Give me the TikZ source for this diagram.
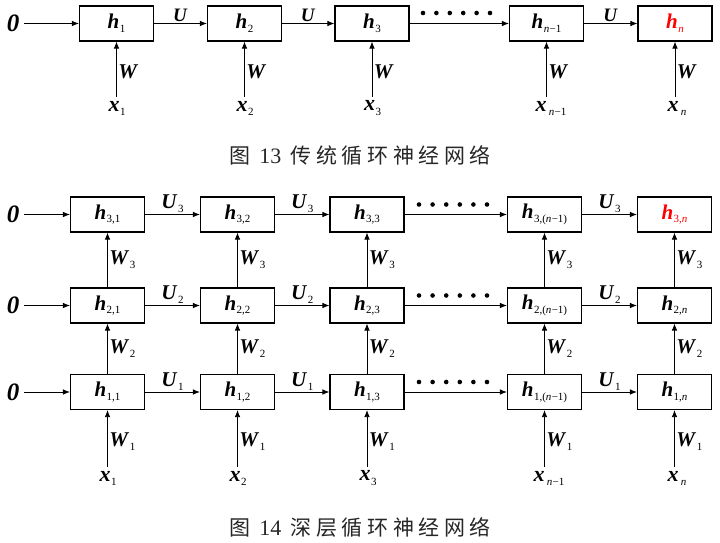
\documentclass[tikz,border=0pt]{standalone}
\usepackage{fontspec}
\setmainfont{Liberation Serif}
\newfontfamily\cjk[LetterSpace=22]{Noto Sans CJK SC}
\usetikzlibrary{arrows.meta}
\newcommand\bi[1]{\textbf{\textit{#1}}}
\newcommand\subx[1]{\raisebox{-0.4ex}{\fontsize{11}{11}\selectfont #1}}
\newcommand\lab[2]{\bi{#1}\kern0.5pt\subx{#2}}
\newcommand\nmo{\textit{n}\kern0.3pt−1}
\tikzset{
  cell/.style={draw, line width=1.1pt, minimum width=74pt, minimum height=35pt, inner sep=0pt, font=\fontsize{21}{21}\selectfont},
  conn/.style={-{Latex[length=7pt,width=5.5pt]}, line width=0.8pt},
  lbl/.style={font=\fontsize{21}{21}\selectfont, inner sep=1.5pt},
  ulbl/.style={font=\fontsize{19}{19}\selectfont, inner sep=1.5pt},
  zero/.style={font=\fontsize{25}{25}\selectfont, inner sep=5pt},
  xin/.style={font=\fontsize{22}{22}\selectfont, inner sep=4pt},
  dot/.style={circle, fill=black, inner sep=0pt, minimum size=4.6pt},
  captext/.style={font=\cjk\fontsize{21}{21}\selectfont, text=black!85}
}
\begin{document}
\begin{tikzpicture}[x=1pt,y=-1pt]
\useasboundingbox (0,0) rectangle (720,543);
% ---------- top: traditional RNN ----------
\node[cell] (a1) at (116.5,23.5) {\lab{h}{1}};
\node[cell] (a2) at (244.5,23.5) {\lab{h}{2}};
\node[cell] (a3) at (372,23.5) {\lab{h}{3}};
\node[cell] (am) at (546.5,23.5) {\lab{h}{\nmo}};
\node[cell,text=red] (an) at (675,23.5) {\lab{h}{\textit{n}}};
\node[zero] (z0) at (13,23.5) {\bi{0}};
\draw[conn] (z0) -- (a1);
\draw[conn] (a1) -- node[above,ulbl]{\bi{U}} (a2);
\draw[conn] (a2) -- node[above,ulbl]{\bi{U}} (a3);
\draw[conn] (a3) -- (am);
\draw[conn] (am) -- node[above,ulbl]{\bi{U}} (an);
\foreach \i in {0,...,5} \node[dot] (td\i) at (423+13.4*\i,13) {};
\node[xin] (x1) at (117,108) {\lab{x}{1}};
\node[xin] (x2) at (245,108) {\lab{x}{2}};
\node[xin] (x3) at (372.5,108) {\lab{x}{3}};
\node[xin] (xm) at (551,108) {\lab{x}{\,\nmo}};
\node[xin] (xn) at (677,108) {\lab{x}{\,\textit{n}}};
\foreach \x/\h in {x1/a1,x2/a2,x3/a3,xm/am,xn/an}
  \draw[conn] (\x.north -| \h) -- node[right,lbl,pos=0.45]{\bi{W}} (\h);
\node[captext] (cap1) at (360,155) {图\ {\rmfamily\fontsize{22}{22}\selectfont 13}\ 传统循环神经网络};
% ---------- bottom: deep RNN ----------
\node[cell] (c31) at (107.5,214.5) {\lab{h}{3,1}};
\node[cell] (c32) at (237.5,214.5) {\lab{h}{3,2}};
\node[cell] (c33) at (367,214.5) {\lab{h}{3,3}};
\node[cell] (c3m) at (544.5,214.5) {\lab{h}{3,(\nmo)}};
\node[cell,text=red] (c3n) at (674.5,214.5) {\lab{h}{3,\textit{n}}};
\node[cell] (c21) at (107.5,305.5) {\lab{h}{2,1}};
\node[cell] (c22) at (237.5,305.5) {\lab{h}{2,2}};
\node[cell] (c23) at (367,305.5) {\lab{h}{2,3}};
\node[cell] (c2m) at (544.5,305.5) {\lab{h}{2,(\nmo)}};
\node[cell] (c2n) at (674.5,305.5) {\lab{h}{2,\textit{n}}};
\node[cell] (c11) at (107.5,392) {\lab{h}{1,1}};
\node[cell] (c12) at (237.5,392) {\lab{h}{1,2}};
\node[cell] (c13) at (367,392) {\lab{h}{1,3}};
\node[cell] (c1m) at (544.5,392) {\lab{h}{1,(\nmo)}};
\node[cell] (c1n) at (674.5,392) {\lab{h}{1,\textit{n}}};
\foreach \r/\y in {3/214.5,2/305.5,1/392}{
  \node[zero] (z\r) at (13,\y) {\bi{0}};
  \draw[conn] (z\r) -- (c\r1);
  \draw[conn] (c\r1) -- node[above,lbl]{\lab{U}{\r}} (c\r2);
  \draw[conn] (c\r2) -- node[above,lbl]{\lab{U}{\r}} (c\r3);
  \draw[conn] (c\r3) -- (c\r m);
  \draw[conn] (c\r m) -- node[above,lbl]{\lab{U}{\r}} (c\r n);
  \foreach \i in {0,...,5} \node[dot] (bd\r\i) at (419+13.6*\i,\y-10) {};
}
\foreach \c in {1,2,3,m,n}{
  \draw[conn] (c1\c) -- node[right,lbl]{\lab{W}{2}} (c2\c);
  \draw[conn] (c2\c) -- node[right,lbl]{\lab{W}{3}} (c3\c);
}
\node[xin] (y1) at (108,478) {\lab{x}{1}};
\node[xin] (y2) at (238,478) {\lab{x}{2}};
\node[xin] (y3) at (368,478) {\lab{x}{3}};
\node[xin] (ym) at (549,478) {\lab{x}{\,\nmo}};
\node[xin] (yn) at (677,478) {\lab{x}{\,\textit{n}}};
\foreach \x/\h in {y1/c11,y2/c12,y3/c13,ym/c1m,yn/c1n}
  \draw[conn] (\x.north -| \h) -- node[right,lbl,pos=0.45]{\lab{W}{1}} (\h);
\node[captext] (cap2) at (360,527) {图\ {\rmfamily\fontsize{22}{22}\selectfont 14}\ 深层循环神经网络};
\end{tikzpicture}
\end{document}
